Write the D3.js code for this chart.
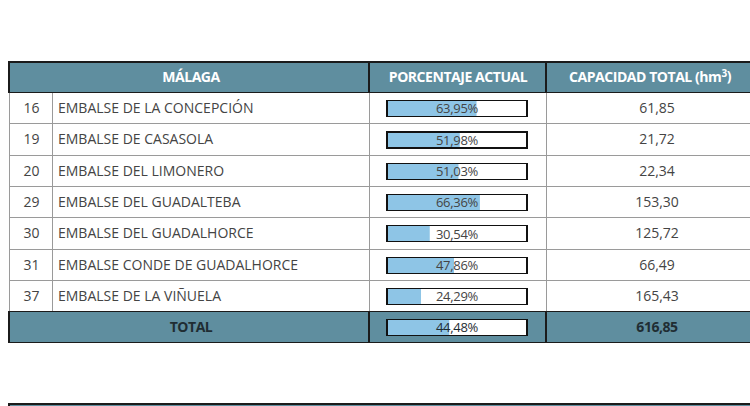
<!DOCTYPE html>
<html>
<head>
<meta charset="utf-8">
<script src="https://cdn.jsdelivr.net/npm/d3@7"></script>
<style>
  html, body { margin: 0; padding: 0; background: #fff; }
  svg { display: block; font-family: "Open Sans", sans-serif; }
</style>
</head>
<body>
<svg id="chart"></svg>
<script>
const headers = ["MÁLAGA", "PORCENTAJE ACTUAL", "CAPACIDAD TOTAL (hm"];
const ids = ["16", "19", "20", "29", "30", "31", "37"];
const names = [
  "EMBALSE DE LA CONCEPCIÓN",
  "EMBALSE DE CASASOLA",
  "EMBALSE DEL LIMONERO",
  "EMBALSE DEL GUADALTEBA",
  "EMBALSE DEL GUADALHORCE",
  "EMBALSE CONDE DE GUADALHORCE",
  "EMBALSE DE LA VIÑUELA",
];
const percents = [63.95, 51.98, 51.03, 66.36, 30.54, 47.86, 24.29];
const capacities = [61.85, 21.72, 22.34, 153.3, 125.72, 66.49, 165.43];
const totalLabel = "TOTAL";
const totalPercent = 44.48;
const totalCapacity = 616.85;

const width = 750;
const height = 406;

const locale = d3.formatLocale({ decimal: ",", thousands: ".", grouping: [3], currency: ["", "€"] });
const fmt = locale.format(".2f");

const colHead = "#5f8e9f";
const barFill = "#8ec5e6";
const gridGrey = "#9a9a9a";
const textGrey = "#444";

// column edges
const x0 = 9, xNum = 52, xPct = 369, xCap = 546, xEnd = 768;
const headTop = 62, headBottom = 92.5;
const rowH = 31.3;

const svg = d3.select("#chart").attr("width", width).attr("height", height);

const rowY = d3.scaleBand()
  .domain(d3.range(ids.length + 1))
  .range([headBottom, headBottom + rowH * (ids.length + 1)]);

const bar = d3.scaleLinear().domain([0, 100]).range([0, 140]);
const barX = 387, barH = 16;

// header band
svg.append("rect")
  .attr("x", x0).attr("y", headTop)
  .attr("width", xEnd - x0).attr("height", headBottom - headTop)
  .attr("fill", colHead);

// body rows
const rows = svg.append("g").selectAll("g")
  .data(ids.map((id, i) => ({ id, name: names[i], pct: percents[i], cap: capacities[i], i })))
  .join("g")
  .attr("transform", (d) => `translate(0,${rowY(d.i)})`);

rows.append("rect")
  .attr("x", x0).attr("width", xEnd - x0)
  .attr("height", rowY.bandwidth())
  .attr("fill", "#fff");

// total row
const ty = rowY(ids.length);
svg.append("rect")
  .attr("x", x0).attr("y", ty)
  .attr("width", xEnd - x0).attr("height", rowY.bandwidth())
  .attr("fill", colHead);

// grid lines: horizontal between body rows
const grid = svg.append("g").attr("stroke", gridGrey).attr("stroke-width", 1).attr("shape-rendering", "crispEdges");
d3.range(1, ids.length).forEach((i) => {
  grid.append("line")
    .attr("x1", x0).attr("x2", xEnd)
    .attr("y1", rowY(i)).attr("y2", rowY(i));
});
// vertical grid lines in body
[x0, xNum, xPct, xCap].forEach((x) => {
  grid.append("line")
    .attr("x1", x).attr("x2", x)
    .attr("y1", headBottom).attr("y2", ty);
});

// dark borders
const dark = svg.append("g").attr("stroke", "#1b1b1b").attr("stroke-width", 1.2).attr("fill", "none").attr("shape-rendering", "crispEdges");
dark.append("rect").attr("x", x0).attr("y", headTop).attr("width", xEnd - x0).attr("height", headBottom - headTop);
dark.append("rect").attr("x", x0).attr("y", ty).attr("width", xEnd - x0).attr("height", rowY.bandwidth());
[xPct, xCap].forEach((x) => {
  dark.append("line").attr("x1", x).attr("x2", x).attr("y1", headTop).attr("y2", headBottom);
  dark.append("line").attr("x1", x).attr("x2", x).attr("y1", ty).attr("y2", ty + rowY.bandwidth());
});

// header texts
const headG = svg.append("g")
  .attr("fill", "#fff").attr("font-weight", "bold").attr("font-size", 14)
  .attr("letter-spacing", "-0.45px").attr("text-anchor", "middle");
headG.append("text").attr("x", (x0 + xPct) / 2 + 2).attr("y", (headTop + headBottom) / 2).attr("dy", "0.35em").text(headers[0]);
headG.append("text").attr("x", (xPct + xCap) / 2 + 0.5).attr("y", (headTop + headBottom) / 2).attr("dy", "0.35em").text(headers[1]);
const capHead = headG.append("text").attr("x", 650).attr("y", (headTop + headBottom) / 2).attr("dy", "0.35em");
capHead.append("tspan").text(headers[2]);
capHead.append("tspan").attr("font-size", 10).attr("dy", "-0.55em").text("3");
capHead.append("tspan").attr("dy", "0.3em").text(")");

// body texts
const bodyFont = 14;
rows.append("text")
  .attr("x", (x0 + xNum) / 2 + 1).attr("y", rowY.bandwidth() / 2).attr("dy", "0.35em")
  .attr("text-anchor", "middle").attr("font-size", bodyFont).attr("fill", textGrey)
  .text((d) => d.id);
rows.append("text")
  .attr("x", 58).attr("y", rowY.bandwidth() / 2).attr("dy", "0.35em")
  .attr("font-size", bodyFont).attr("fill", textGrey)
  .text((d) => d.name);
rows.append("text")
  .attr("x", (xCap + xEnd) / 2).attr("y", rowY.bandwidth() / 2).attr("dy", "0.35em")
  .attr("text-anchor", "middle").attr("font-size", bodyFont).attr("fill", textGrey)
  .text((d) => fmt(d.cap));

// percentage bars
function drawBar(g, pct, cy, color) {
  g.append("rect")
    .attr("x", barX).attr("y", cy - barH / 2)
    .attr("width", bar(100)).attr("height", barH)
    .attr("fill", "#fff");
  g.append("rect")
    .attr("x", barX).attr("y", cy - barH / 2)
    .attr("width", bar(pct)).attr("height", barH)
    .attr("fill", barFill);
  g.append("rect")
    .attr("x", barX).attr("y", cy - barH / 2)
    .attr("width", bar(100)).attr("height", barH)
    .attr("fill", "none").attr("stroke", "#111").attr("stroke-width", 1.2)
    .attr("shape-rendering", "crispEdges");
  g.append("text")
    .attr("x", barX + bar(100) / 2).attr("y", cy).attr("dy", "0.36em")
    .attr("text-anchor", "middle").attr("font-size", 13).attr("fill", color)
    .attr("letter-spacing", "-0.3px")
    .text(fmt(pct) + "%");
}
rows.each(function (d) {
  drawBar(d3.select(this), d.pct, rowY.bandwidth() / 2 + 0.5, textGrey);
});

// total texts
const tcy = ty + rowY.bandwidth() / 2;
const totG = svg.append("g");
totG.append("text")
  .attr("x", (x0 + xPct) / 2 + 2).attr("y", tcy).attr("dy", "0.35em")
  .attr("text-anchor", "middle").attr("font-size", 14).attr("font-weight", "bold")
  .attr("letter-spacing", "-0.45px").attr("fill", "#1f2d33")
  .text(totalLabel);
drawBar(totG, totalPercent, tcy + 0.5, "#1f2d33");
totG.append("text")
  .attr("x", (xCap + xEnd) / 2).attr("y", tcy).attr("dy", "0.35em")
  .attr("text-anchor", "middle").attr("font-size", 14).attr("font-weight", "bold")
  .attr("letter-spacing", "-0.45px").attr("fill", "#1f2d33")
  .text(fmt(totalCapacity));

// next table's header just peeking in at the bottom
svg.append("rect")
  .attr("x", x0).attr("y", 404)
  .attr("width", xEnd - x0).attr("height", 10)
  .attr("fill", colHead).attr("stroke", "#1b1b1b").attr("stroke-width", 1.2)
  .attr("shape-rendering", "crispEdges");
</script>
</body>
</html>
